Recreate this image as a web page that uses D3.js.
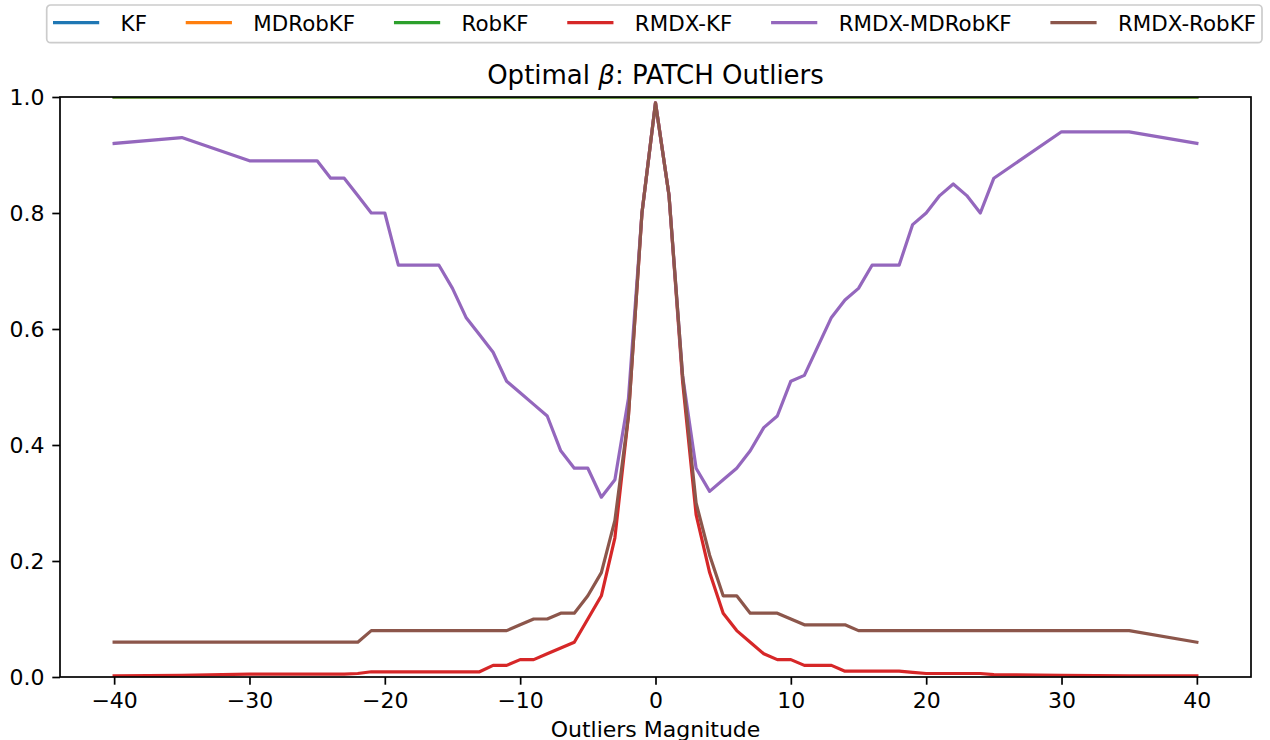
<!DOCTYPE html>
<html>
<head>
<meta charset="utf-8">
<script src="https://cdn.jsdelivr.net/npm/d3@7"></script>
<style>
  body { margin: 0; background: #fff; }
  svg { display: block; font-family: "DejaVu Sans", sans-serif; }
</style>
</head>
<body>
<svg id="chart" width="1270" height="740"></svg>
<script>
// Outlier magnitudes (x axis)
const magnitudes = [-40, -35, -30, -25, -24, -23, -22, -21, -20, -19, -18, -17, -16, -15, -14, -13, -12, -11, -10, -9, -8, -7, -6, -5, -4, -3, -2, -1,
  0, 1, 2, 3, 4, 5, 6, 7, 8, 9, 10, 11, 12, 13, 14, 15, 16, 17, 18, 19, 20, 21, 22, 23, 24, 25, 30, 35, 40];

// optimal beta per filter
const kfBeta = [1, 1, 1, 1, 1, 1, 1, 1, 1, 1, 1, 1, 1, 1, 1, 1, 1, 1, 1, 1, 1, 1, 1, 1, 1, 1, 1, 1,
  1, 1, 1, 1, 1, 1, 1, 1, 1, 1, 1, 1, 1, 1, 1, 1, 1, 1, 1, 1, 1, 1, 1, 1, 1, 1, 1, 1, 1];
const mdRobKfBeta = [1, 1, 1, 1, 1, 1, 1, 1, 1, 1, 1, 1, 1, 1, 1, 1, 1, 1, 1, 1, 1, 1, 1, 1, 1, 1, 1, 1,
  1, 1, 1, 1, 1, 1, 1, 1, 1, 1, 1, 1, 1, 1, 1, 1, 1, 1, 1, 1, 1, 1, 1, 1, 1, 1, 1, 1, 1];
const robKfBeta = [1, 1, 1, 1, 1, 1, 1, 1, 1, 1, 1, 1, 1, 1, 1, 1, 1, 1, 1, 1, 1, 1, 1, 1, 1, 1, 1, 1,
  1, 1, 1, 1, 1, 1, 1, 1, 1, 1, 1, 1, 1, 1, 1, 1, 1, 1, 1, 1, 1, 1, 1, 1, 1, 1, 1, 1, 1];
const rmdxKfBeta = [0.002, 0.003, 0.005, 0.005, 0.005, 0.005, 0.006, 0.009, 0.009, 0.009, 0.009, 0.009, 0.009, 0.009, 0.009, 0.009, 0.02, 0.02, 0.03, 0.03, 0.04, 0.05, 0.06, 0.10, 0.14, 0.24, 0.45, 0.80,
  0.99, 0.83, 0.51, 0.28, 0.18, 0.11, 0.08, 0.06, 0.04, 0.03, 0.03, 0.02, 0.02, 0.02, 0.01, 0.01, 0.01, 0.01, 0.01, 0.008, 0.006, 0.006, 0.006, 0.006, 0.006, 0.004, 0.003, 0.002, 0.002];
const rmdxMdRobKfBeta = [0.92, 0.93, 0.89, 0.89, 0.86, 0.86, 0.83, 0.80, 0.80, 0.71, 0.71, 0.71, 0.71, 0.67, 0.62, 0.59, 0.56, 0.51, 0.49, 0.47, 0.45, 0.39, 0.36, 0.36, 0.31, 0.34, 0.48, 0.80,
  0.99, 0.83, 0.52, 0.36, 0.32, 0.34, 0.36, 0.39, 0.43, 0.45, 0.51, 0.52, 0.57, 0.62, 0.65, 0.67, 0.71, 0.71, 0.71, 0.78, 0.80, 0.83, 0.85, 0.83, 0.80, 0.86, 0.94, 0.94, 0.92];
const rmdxRobKfBeta = [0.06, 0.06, 0.06, 0.06, 0.06, 0.06, 0.06, 0.08, 0.08, 0.08, 0.08, 0.08, 0.08, 0.08, 0.08, 0.08, 0.08, 0.08, 0.09, 0.10, 0.10, 0.11, 0.11, 0.14, 0.18, 0.27, 0.45, 0.80,
  0.99, 0.83, 0.52, 0.30, 0.21, 0.14, 0.14, 0.11, 0.11, 0.11, 0.10, 0.09, 0.09, 0.09, 0.09, 0.08, 0.08, 0.08, 0.08, 0.08, 0.08, 0.08, 0.08, 0.08, 0.08, 0.08, 0.08, 0.08, 0.06];

const seriesNames = ["KF", "MDRobKF", "RobKF", "RMDX-KF", "RMDX-MDRobKF", "RMDX-RobKF"];
const seriesValues = [kfBeta, mdRobKfBeta, robKfBeta, rmdxKfBeta, rmdxMdRobKfBeta, rmdxRobKfBeta];
const seriesColors = ["#1f77b4", "#ff7f0e", "#2ca02c", "#d62728", "#9467bd", "#8c564b"];

const xTicks = [-40, -30, -20, -10, 0, 10, 20, 30, 40];
const yTicks = [0, 0.2, 0.4, 0.6, 0.8, 1.0];

const svg = d3.select("#chart");
const plot = { left: 60, right: 1251, top: 97, bottom: 677 };
const fontSize = 22;

const xScale = d3.scaleLinear().domain([-44, 44]).range([plot.left, plot.right]);
const yScale = d3.scaleLinear().domain([0, 1]).range([plot.bottom, plot.top]);

svg.append("defs").append("clipPath").attr("id", "plot-clip")
  .append("rect")
  .attr("x", plot.left).attr("y", plot.top)
  .attr("width", plot.right - plot.left).attr("height", plot.bottom - plot.top);

// lines
const line = d3.line()
  .x((d, i) => xScale(magnitudes[i]))
  .y(d => yScale(d));

svg.append("g").attr("clip-path", "url(#plot-clip)")
  .selectAll("path")
  .data(seriesValues)
  .join("path")
  .attr("d", d => line(d))
  .attr("fill", "none")
  .attr("stroke", (d, i) => seriesColors[i])
  .attr("stroke-width", 3.2)
  .attr("stroke-linejoin", "round")
  .attr("stroke-linecap", "square");

// axes
const fmtMinus = d => (d < 0 ? "\u2212" + Math.abs(d) : String(d));

const xAxis = svg.append("g")
  .attr("transform", `translate(0,${plot.bottom})`)
  .call(d3.axisBottom(xScale).tickValues(xTicks).tickSize(7.7).tickPadding(7.7).tickFormat(fmtMinus));

const yAxis = svg.append("g")
  .attr("transform", `translate(${plot.left},0)`)
  .call(d3.axisLeft(yScale).tickValues(yTicks).tickSize(7.7).tickPadding(7.7).tickFormat(d3.format(".1f")));

[xAxis, yAxis].forEach(ax => {
  ax.select(".domain").remove();
  ax.selectAll(".tick line").attr("stroke", "#000").attr("stroke-width", 1.7);
  ax.selectAll(".tick text")
    .attr("fill", "#000")
    .style("font-family", "DejaVu Sans")
    .style("font-size", fontSize + "px");
});

// frame
svg.append("rect")
  .attr("x", plot.left).attr("y", plot.top)
  .attr("width", plot.right - plot.left).attr("height", plot.bottom - plot.top)
  .attr("fill", "none")
  .attr("stroke", "#000")
  .attr("stroke-width", 1.7);

// title
const title = svg.append("text")
  .attr("x", (plot.left + plot.right) / 2)
  .attr("y", 84)
  .attr("text-anchor", "middle")
  .style("font-size", "26px");
title.append("tspan").text("Optimal ");
title.append("tspan").style("font-style", "italic").text("\u03b2");
title.append("tspan").text(": PATCH Outliers");

// x label (cut by the bottom edge, as in the original)
svg.append("text")
  .attr("x", (plot.left + plot.right) / 2)
  .attr("y", 737)
  .attr("text-anchor", "middle")
  .style("font-size", fontSize + "px")
  .text("Outliers Magnitude");

// legend, expanded across the top
const legendBox = { x: 46.7, y: 5, w: 1215.3, h: 37.7 };
const legend = svg.append("g");
legend.append("rect")
  .attr("x", legendBox.x).attr("y", legendBox.y)
  .attr("width", legendBox.w).attr("height", legendBox.h)
  .attr("rx", 4)
  .attr("fill", "#fff")
  .attr("fill-opacity", 0.8)
  .attr("stroke", "#cccccc")
  .attr("stroke-width", 1.7);

const handleLen = 43, textPad = 23, legendFont = 21.4;
const items = legend.selectAll("g.item")
  .data(seriesNames)
  .join("g")
  .attr("class", "item");

items.append("line")
  .attr("x1", 0).attr("x2", handleLen)
  .attr("y1", 22.7).attr("y2", 22.7)
  .attr("stroke", (d, i) => seriesColors[i])
  .attr("stroke-width", 3.2)
  .attr("stroke-linecap", "square");

items.append("text")
  .attr("x", handleLen + textPad)
  .attr("y", 30.7)
  .style("font-size", legendFont + "px")
  .text(d => d);

const widths = [];
items.each(function () {
  widths.push(handleLen + textPad + d3.select(this).select("text").node().getComputedTextLength());
});
const innerLeft = 54.6, innerRight = 1256;
const gap = (innerRight - innerLeft - d3.sum(widths)) / (widths.length - 1);
let cursor = innerLeft;
items.attr("transform", (d, i) => {
  const t = `translate(${cursor},0)`;
  cursor += widths[i] + gap;
  return t;
});
</script>
</body>
</html>
